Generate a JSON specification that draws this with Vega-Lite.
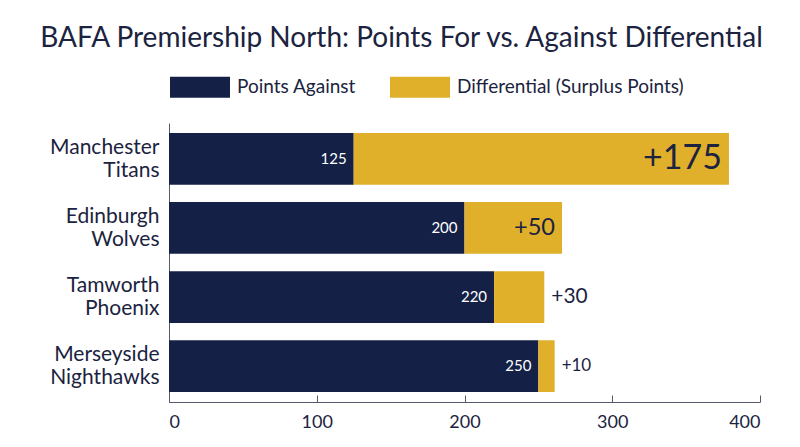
{
  "$schema": "https://vega.github.io/schema/vega-lite/v6.json",
  "width": 591,
  "height": 279,
  "autosize": {"type": "none"},
  "padding": {"left": 169, "top": 123, "right": 40, "bottom": 45},
  "background": "white",
  "title": {
    "text": "BAFA Premiership North: Points For vs. Against Differential",
    "anchor": "middle",
    "frame": "group",
    "dx": -63,
    "offset": 4,
    "fontSize": 28,
    "fontWeight": "normal",
    "font": "Lato",
    "color": "#1b2340"
  },
  "data": {
    "values": [
      {"team": "Manchester Titans", "against": 125, "for_bar": 379, "differential": 175},
      {"team": "Edinburgh Wolves", "against": 200, "for_bar": 266, "differential": 50},
      {"team": "Tamworth Phoenix", "against": 220, "for_bar": 254, "differential": 30},
      {"team": "Merseyside Nighthawks", "against": 250, "for_bar": 261, "differential": 10}
    ]
  },
  "encoding": {
    "y": {
      "field": "team",
      "type": "nominal",
      "sort": null,
      "title": null,
      "scale": {"paddingInner": 0.25, "paddingOuter": 0.145},
      "axis": {
        "labelExpr": "split(datum.label, ' ')",
        "labelFontSize": 21,
        "labelLineHeight": 23,
        "labelPadding": 10,
        "labelOffset": -11,
        "ticks": false
      }
    }
  },
  "layer": [
    {
      "mark": {"type": "bar"},
      "encoding": {
        "x": {
          "field": "against",
          "type": "quantitative",
          "title": null,
          "scale": {"domain": [0, 400]},
          "axis": {"values": [0, 100, 200, 300, 400], "grid": false, "tickSize": -7, "labelPadding": 18, "labelFontSize": 18}
        },
        "color": {
          "datum": "Points Against",
          "type": "nominal",
          "scale": {
            "domain": ["Points Against", "Differential (Surplus Points)"],
            "range": ["#142046", "#e1b02b"]
          },
          "legend": {
            "title": null,
            "orient": "none",
            "legendX": 1,
            "legendY": -66,
            "direction": "horizontal",
            "symbolType": "M-1,-0.35H1V0.35H-1Z",
            "symbolSize": 3600,
            "symbolStrokeWidth": 0,
            "symbolOpacity": 1,
            "labelFontSize": 19,
            "labelOffset": 7,
            "labelLimit": 400,
            "columnPadding": 34,
            "padding": 0,
            "labelColor": "#1b2340",
            "labelFont": "Lato"
          }
        }
      }
    },
    {
      "mark": {"type": "bar"},
      "encoding": {
        "x": {"field": "against", "type": "quantitative"},
        "x2": {"field": "for_bar"},
        "color": {"datum": "Differential (Surplus Points)", "type": "nominal"}
      }
    },
    {
      "mark": {"type": "text", "align": "right", "dx": -7, "color": "white", "fontSize": 15},
      "encoding": {
        "x": {"field": "against", "type": "quantitative"},
        "text": {"field": "against", "type": "quantitative"}
      }
    },
    {
      "transform": [{"filter": "datum.differential >= 50"}],
      "mark": {"type": "text", "align": "right", "dx": -7, "color": "#1b2340"},
      "encoding": {
        "x": {"field": "for_bar", "type": "quantitative"},
        "text": {"field": "differential", "type": "quantitative", "format": "+d"},
        "size": {
          "field": "differential",
          "type": "quantitative",
          "scale": {"type": "sqrt", "zero": false, "domain": [10, 175], "range": [17, 34]},
          "legend": null
        }
      }
    },
    {
      "transform": [{"filter": "datum.differential < 50"}],
      "mark": {"type": "text", "align": "left", "dx": 7, "color": "#1b2340"},
      "encoding": {
        "x": {"field": "for_bar", "type": "quantitative"},
        "text": {"field": "differential", "type": "quantitative", "format": "+d"},
        "size": {
          "field": "differential",
          "type": "quantitative",
          "legend": null
        }
      }
    }
  ],
  "config": {
    "font": "Lato",
    "view": {"stroke": null},
    "axis": {
      "domainColor": "#555a6a",
      "tickColor": "#555a6a",
      "labelColor": "#1b2340",
      "labelFont": "Lato"
    }
  }
}
